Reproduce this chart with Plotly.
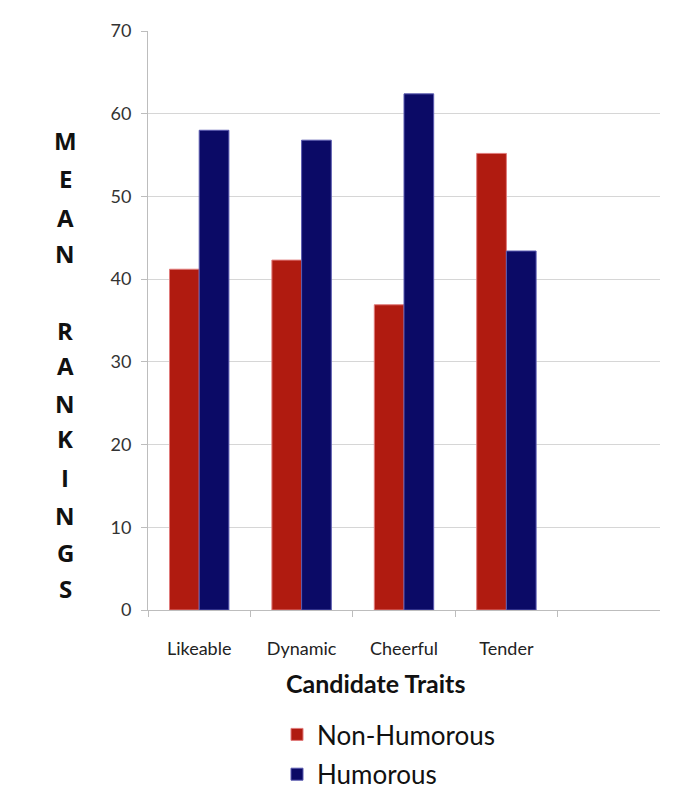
import plotly.graph_objects as go

# Mean rankings of candidate traits by speech type
traits = ["Likeable", "Dynamic", "Cheerful", "Tender"]
non_humorous = [41.2, 42.3, 36.9, 55.2]
humorous = [58.0, 56.8, 62.4, 43.4]
y_title_letters = ["M", "E", "A", "N", "", "R", "A", "N", "K", "I", "N", "G", "S"]
x_title = "Candidate Traits"

RED = "#B01B10"
NAVY = "#0B0A66"
FONT = "Lato, 'Open Sans', sans-serif"
W, H = 675, 790
L, R, T, B = 148, 15, 31, 180
PW, PH = W - L - R, H - T - B

fig = go.Figure()
fig.add_trace(go.Bar(
    name="Non-Humorous", x=traits, y=non_humorous,
    marker=dict(color=RED, line=dict(color="#E07A7A", width=1)),
    legendgroup="a",
))
fig.add_trace(go.Bar(
    name="Humorous", x=traits, y=humorous,
    marker=dict(color=NAVY, line=dict(color="#5A5AB0", width=1)),
    legendgroup="b",
))

# vertically stacked y-axis title, one letter per line
letter_y = [140, 178, 217, 253, None, 330, 365, 403, 438, 477, 515, 552, 588]
for ch, py in zip(y_title_letters, letter_y):
    if not ch:
        continue
    fig.add_annotation(
        text=ch, xref="paper", yref="paper",
        x=(65 - L) / PW, y=(H - B - py) / PH,
        xanchor="center", yanchor="middle", showarrow=False,
        font=dict(family="'Open Sans', sans-serif", size=24, color="#111111", weight="bold"),
    )

# category axis title
fig.add_annotation(
    text="<b>%s</b>" % x_title, xref="paper", yref="paper",
    x=(375 - L) / PW, y=(H - B - 683) / PH,
    xanchor="center", yanchor="middle", showarrow=False,
    font=dict(family=FONT, size=25, color="#111111"),
)

fig.update_layout(
    width=W, height=H,
    margin=dict(l=L, r=R, t=T, b=B, autoexpand=False),
    paper_bgcolor="white", plot_bgcolor="white",
    barmode="group", bargap=0.42, bargroupgap=0,
    font=dict(family=FONT, size=18, color="#333333"),
    legend=dict(
        orientation="v", xref="container", yref="container",
        x=277 / W, y=(H - 711) / H, xanchor="left", yanchor="top",
        font=dict(family=FONT, size=26, color="#111111"),
        tracegroupgap=3, itemwidth=30,
    ),
)
fig.update_xaxes(
    type="category", categoryarray=traits, range=[-0.5, 4.5],
    automargin=False,
    showline=True, linecolor="#BDBDBD", linewidth=1,
    ticks="outside", ticklen=6, tickcolor="#BDBDBD", tickson="boundaries",
    ticklabelstandoff=22,
    tickfont=dict(family=FONT, size=18, color="#222222"),
    showgrid=False,
)
fig.update_yaxes(
    range=[0, 70], dtick=10,
    automargin=False,
    showgrid=True, gridcolor="#D6D6D6", gridwidth=1,
    showline=True, linecolor="#BDBDBD", linewidth=1,
    ticks="outside", ticklen=6, tickcolor="#BDBDBD",
    ticklabelstandoff=6,
    tickfont=dict(family=FONT, size=18, color="#333333"),
    zeroline=False,
)

fig.write_html("out.html")
